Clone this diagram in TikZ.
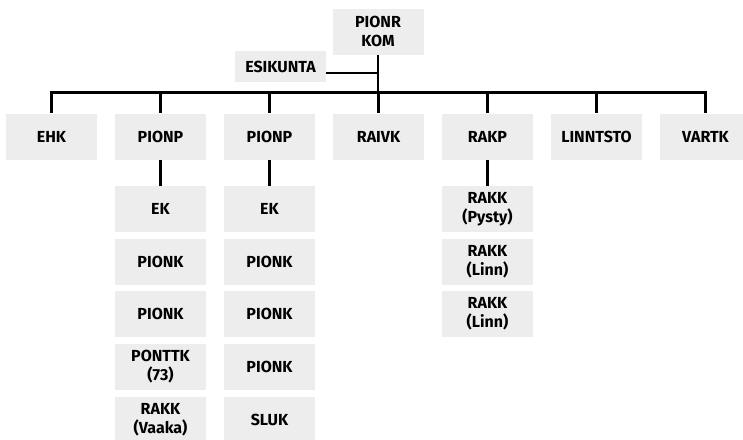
\documentclass[tikz,border=0pt]{standalone}
\usepackage{fontspec}
\setmainfont{Fira Sans}
\definecolor{boxgray}{RGB}{237,237,237}
\begin{document}
\begin{tikzpicture}[x=1pt,y=-1pt,
  unit/.style={fill=boxgray,minimum width=91pt,minimum height=46pt,inner sep=0pt,align=center,
    font=\bfseries\fontsize{16}{19}\selectfont},
  link/.style={line width=2.5pt}]
\useasboundingbox (0,0) rectangle (743,439);
\clip (0,0) rectangle (743,439);
% top
\node[unit] (kom) at (378,31.5) {PIONR\\KOM};
\node[unit,minimum height=31pt] (esi) at (280.5,66.5) {ESIKUNTA};
% level 1
\node[unit] (ehk) at (51.5,136.5) {EHK};
\node[unit] (p1) at (160.5,136.5) {PIONP};
\node[unit] (p2) at (269.5,136.5) {PIONP};
\node[unit] (raivk) at (378.5,136.5) {RAIVK};
\node[unit] (rakp) at (487.5,136.5) {RAKP};
\node[unit] (linn) at (596.5,136.5) {LINNTSTO};
\node[unit] (vartk) at (705.5,136.5) {VARTK};
% column 1
\node[unit] (a1) at (160.5,209) {EK};
\node[unit] (a2) at (160.5,261.5) {PIONK};
\node[unit] (a3) at (160.5,314) {PIONK};
\node[unit] (a4) at (160.5,367) {PONTTK\\(73)};
\node[unit] (a5) at (160.5,420) {RAKK\\(Vaaka)};
% column 2
\node[unit] (b1) at (269.5,209) {EK};
\node[unit] (b2) at (269.5,261.5) {PIONK};
\node[unit] (b3) at (269.5,314) {PIONK};
\node[unit] (b4) at (269.5,367) {PIONK};
\node[unit] (b5) at (269.5,420) {SLUK};
% column rakp
\node[unit] (c1) at (487.5,209) {RAKK\\(Pysty)};
\node[unit] (c2) at (487.5,261.5) {RAKK\\(Linn)};
\node[unit] (c3) at (487.5,314) {RAKK\\(Linn)};
% connectors
\coordinate (busL) at (51.5,92.5);
\coordinate (busR) at (705.5,92.5);
\coordinate (busM) at (378,92.5);
\coordinate (esiJ) at (378,73);
\draw[link] (kom.south) -- (busM);
\draw[link] (esi.east |- esiJ) -- (esiJ);
\draw[link,line cap=rect] (busL) -- (busR);
\draw[link] (busL) -- (ehk.north);
\draw[link] (busR) -- (vartk.north);
\draw[link] (p1.north |- busL) -- (p1.north);
\draw[link] (p2.north |- busL) -- (p2.north);
\draw[link] (raivk.north |- busL) -- (raivk.north);
\draw[link] (rakp.north |- busL) -- (rakp.north);
\draw[link] (linn.north |- busL) -- (linn.north);
\draw[link] (p1.south) -- (a1.north);
\draw[link] (p2.south) -- (b1.north);
\draw[link] (rakp.south) -- (c1.north);
\end{tikzpicture}
\end{document}
